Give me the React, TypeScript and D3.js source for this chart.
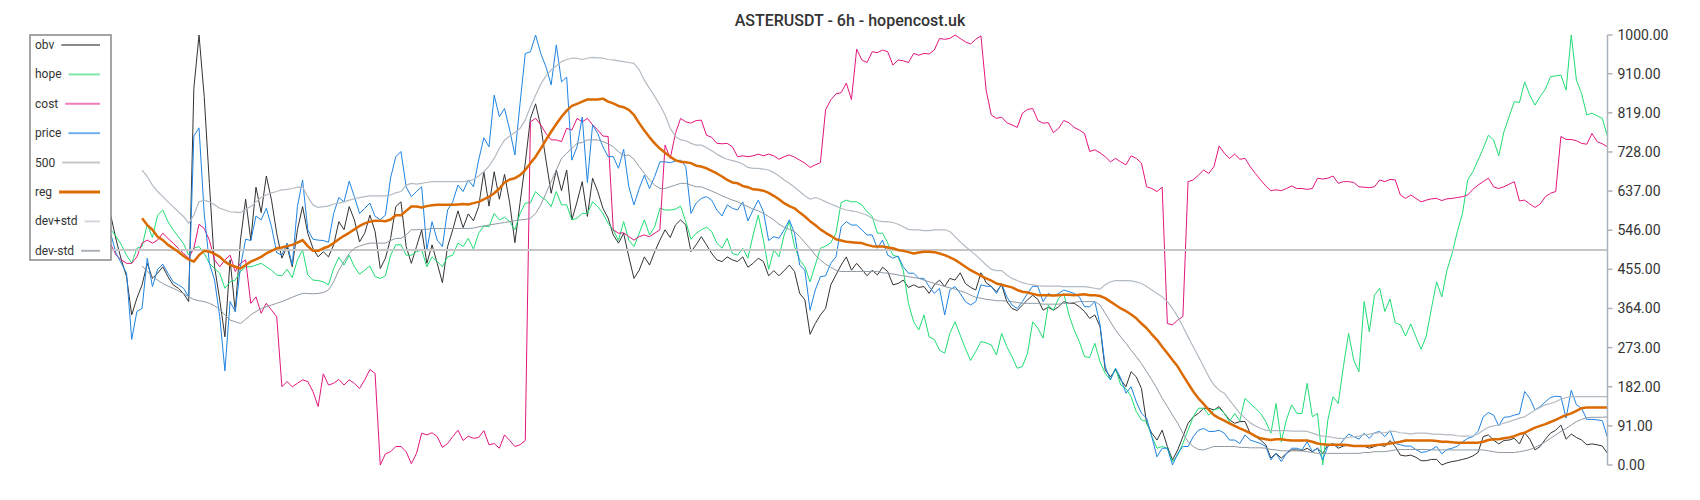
import React from 'react';
import * as d3 from 'd3';

const TITLE = 'ASTERUSDT - 6h - hopencost.uk';
const TICKS = [0, 91, 182, 273, 364, 455, 546, 637, 728, 819, 910, 1000];
const LEVEL = 500;

const price = [
  535, 492, 469, 446, 292, 357, 364, 481, 415, 455,
  467, 446, 426, 419, 411, 391, 765, 784, 585, 469,
  430, 345, 219, 380, 357, 461, 525, 522, 579, 570,
  597, 554, 494, 488, 516, 465, 601, 663, 547, 525,
  523, 522, 518, 585, 622, 612, 660, 624, 585, 597,
  609, 578, 571, 581, 668, 717, 729, 647, 624, 636,
  647, 500, 566, 523, 508, 593, 612, 651, 636, 663,
  647, 709, 761, 740, 860, 810, 829, 779, 721, 841,
  957, 961, 1000, 957, 926, 884, 977, 891, 902, 709,
  740, 809, 657, 791, 771, 740, 717, 717, 690, 734,
  647, 605, 643, 674, 643, 671, 705, 705, 703, 707,
  709, 694, 585, 609, 620, 624, 616, 593, 579, 605,
  597, 593, 612, 568, 593, 616, 589, 522, 531, 527,
  547, 570, 539, 465, 453, 360, 407, 438, 440, 469,
  484, 554, 566, 558, 558, 547, 535, 535, 504, 523,
  488, 481, 486, 461, 446, 446, 434, 434, 415, 399,
  411, 349, 407, 415, 399, 380, 372, 380, 419, 416,
  415, 399, 422, 391, 372, 364, 380, 399, 416, 415,
  380, 399, 393, 399, 407, 403, 399, 391, 368, 368,
  380, 326, 229, 198, 225, 202, 167, 182, 147, 120,
  109, 66, 19, 39, 39, 0, 27, 43, 43, 66,
  81, 85, 78, 78, 81, 74, 58, 58, 50, 70,
  58, 54, 50, 43, 12, 27, 8, 27, 39, 39,
  35, 54, 31, 39, 12, 43, 50, 43, 58, 72,
  66, 60, 74, 62, 75, 78, 66, 80, 50, 47,
  44, 44, 36, 29, 31, 36, 43, 26, 36, 39,
  44, 54, 62, 66, 78, 112, 122, 116, 91, 111,
  112, 116, 119, 171, 155, 128, 136, 147, 157, 160,
  159, 109, 174, 140, 132, 106, 106, 105, 103, 64,
];

const obv = [
  578, 523, 477, 438, 349, 388, 419, 469, 434, 446,
  461, 438, 419, 411, 399, 380, 876, 1000, 857, 655,
  461, 384, 298, 477, 357, 523, 618, 523, 646, 587,
  672, 616, 539, 481, 508, 461, 547, 601, 539, 504,
  484, 496, 484, 512, 566, 547, 601, 570, 519, 539,
  581, 543, 457, 481, 527, 601, 612, 508, 469, 508,
  547, 469, 512, 469, 424, 508, 547, 591, 552, 584,
  568, 601, 682, 602, 682, 618, 676, 609, 517, 610,
  702, 806, 840, 787, 709, 632, 686, 638, 686, 570,
  612, 659, 578, 667, 636, 597, 574, 535, 516, 539,
  484, 434, 453, 484, 465, 496, 523, 547, 529, 558,
  570, 558, 496, 512, 531, 512, 492, 477, 473, 484,
  477, 473, 484, 460, 469, 481, 473, 440, 452, 440,
  452, 465, 450, 399, 384, 304, 329, 349, 364, 419,
  442, 465, 484, 453, 469, 455, 440, 453, 442, 460,
  450, 419, 422, 430, 413, 419, 413, 415, 399, 419,
  430, 415, 434, 430, 447, 422, 413, 407, 447, 424,
  415, 403, 419, 380, 364, 359, 372, 384, 395, 385,
  360, 367, 360, 368, 380, 376, 376, 368, 357, 341,
  349, 322, 221, 205, 221, 198, 182, 217, 205, 178,
  97, 74, 58, 81, 43, 12, 35, 66, 97, 112,
  120, 132, 132, 128, 136, 120, 105, 97, 101, 101,
  74, 66, 58, 47, 16, 27, 16, 27, 35, 35,
  33, 39, 31, 39, 27, 47, 49, 39, 44, 47,
  44, 43, 44, 39, 43, 47, 43, 57, 43, 23,
  21, 23, 18, 10, 10, 13, 13, 0, 5, 8,
  10, 13, 16, 21, 29, 66, 70, 58, 49, 57,
  58, 62, 49, 75, 60, 35, 43, 60, 74, 81,
  93, 60, 72, 64, 58, 47, 49, 47, 44, 27,
];

const hope = [
  547, 531, 512, 488, 469, 504, 508, 560, 529, 581,
  593, 566, 547, 531, 515, 488, 504, 508, 492, 469,
  457, 446, 411, 426, 430, 450, 461, 461, 465, 469,
  461, 453, 442, 440, 455, 436, 477, 500, 442, 430,
  429, 426, 419, 457, 483, 465, 488, 461, 444, 453,
  463, 438, 434, 440, 488, 512, 512, 488, 488, 496,
  500, 461, 484, 473, 461, 484, 488, 516, 508, 527,
  502, 539, 556, 554, 585, 570, 576, 566, 547, 585,
  609, 610, 636, 624, 616, 601, 636, 605, 605, 570,
  574, 585, 585, 612, 601, 585, 562, 547, 522, 566,
  523, 508, 539, 570, 535, 554, 597, 593, 593, 595,
  602, 566, 525, 539, 547, 553, 543, 516, 504, 527,
  492, 488, 504, 481, 535, 581, 523, 455, 500, 484,
  535, 566, 508, 477, 461, 426, 465, 504, 509, 517,
  539, 610, 616, 612, 612, 605, 589, 578, 539, 539,
  516, 488, 484, 453, 376, 333, 314, 349, 298, 292,
  267, 260, 306, 333, 302, 271, 243, 264, 287, 284,
  279, 256, 306, 275, 252, 225, 229, 260, 333, 318,
  295, 372, 360, 388, 399, 349, 314, 287, 252, 250,
  283, 240, 213, 198, 225, 186, 178, 159, 124, 105,
  101, 66, 39, 43, 39, 8, 23, 50, 81, 112,
  132, 132, 116, 128, 132, 120, 101, 120, 103, 155,
  143, 132, 120, 101, 74, 143, 54, 105, 140, 120,
  120, 190, 112, 120, 0, 105, 159, 143, 229, 306,
  244, 217, 380, 310, 395, 411, 357, 386, 331, 326,
  300, 328, 298, 269, 300, 364, 426, 391, 453, 492,
  543, 585, 663, 682, 709, 736, 767, 756, 719, 775,
  810, 845, 843, 891, 860, 837, 857, 874, 903, 905,
  907, 872, 1000, 895, 864, 814, 818, 812, 806, 764,
];

const cost = [
  512, 488, 477, 469, 469, 484, 516, 523, 516, 523,
  539, 527, 516, 504, 492, 481, 504, 560, 550, 523,
  477, 461, 477, 488, 450, 469, 477, 376, 391, 353,
  376, 360, 345, 182, 194, 182, 190, 198, 194, 171,
  136, 212, 186, 190, 199, 186, 198, 190, 178, 198,
  222, 213, 0, 26, 31, 43, 43, 31, 3, 27,
  74, 70, 75, 66, 41, 50, 66, 81, 57, 67,
  62, 64, 80, 47, 50, 39, 70, 57, 43, 47,
  57, 798, 806, 791, 771, 756, 756, 752, 783, 779,
  806, 798, 806, 791, 779, 765, 764, 547, 539, 540,
  531, 523, 531, 535, 531, 539, 547, 744, 713, 771,
  806, 798, 795, 801, 802, 767, 762, 748, 747, 748,
  740, 717, 719, 717, 719, 723, 719, 723, 719, 711,
  717, 721, 716, 709, 702, 692, 698, 703, 826, 849,
  863, 866, 888, 850, 967, 942, 936, 961, 959, 965,
  961, 930, 942, 940, 936, 957, 953, 957, 956, 965,
  992, 990, 992, 1000, 992, 984, 979, 990, 998, 872,
  814, 806, 809, 796, 791, 785, 818, 827, 829, 801,
  795, 796, 773, 783, 801, 796, 785, 779, 771, 729,
  733, 726, 717, 705, 713, 705, 698, 719, 713, 702,
  647, 643, 636, 646, 329, 326, 337, 345, 659, 663,
  674, 686, 678, 694, 742, 725, 713, 723, 711, 713,
  694, 678, 663, 649, 638, 640, 638, 643, 649, 643,
  643, 641, 643, 667, 665, 667, 672, 655, 659, 659,
  657, 647, 646, 645, 647, 663, 659, 664, 663, 628,
  620, 628, 620, 612, 616, 619, 620, 615, 619, 620,
  622, 624, 628, 641, 651, 659, 667, 647, 643, 647,
  653, 659, 614, 616, 607, 599, 607, 624, 632, 636,
  764, 757, 757, 754, 748, 746, 771, 752, 747, 740,
];

const reg = [
  null, null, null, null, null, null, 574, 558, 547, 531,
  523, 512, 504, 496, 486, 478, 473, 488, 498, 496,
  491, 484, 473, 465, 461, 457, 465, 473, 478, 484,
  492, 498, 504, 506, 509, 512, 517, 523, 509, 498,
  498, 504, 508, 516, 525, 533, 540, 548, 556, 562,
  566, 568, 568, 567, 571, 581, 581, 591, 601, 601,
  599, 602, 604, 605, 605, 605, 605, 606, 607, 606,
  609, 612, 618, 624, 632, 643, 657, 664, 667, 674,
  686, 702, 717, 736, 756, 775, 793, 810, 824, 835,
  840, 845, 850, 850, 850, 852, 845, 841, 835, 832,
  826, 814, 795, 778, 762, 748, 736, 726, 717, 709,
  705, 704, 702, 696, 694, 690, 684, 678, 671, 663,
  657, 655, 649, 646, 641, 640, 638, 633, 626, 618,
  609, 602, 597, 587, 578, 567, 558, 548, 540, 533,
  525, 522, 519, 518, 517, 516, 512, 509, 508, 508,
  506, 504, 500, 498, 495, 492, 494, 496, 496, 495,
  492, 488, 483, 477, 469, 461, 453, 447, 440, 434,
  429, 422, 419, 416, 413, 407, 403, 401, 398, 395,
  395, 395, 394, 395, 396, 396, 395, 396, 397, 395,
  395, 393, 388, 380, 372, 364, 358, 350, 341, 329,
  318, 304, 291, 275, 260, 244, 229, 209, 190, 171,
  155, 142, 128, 116, 109, 103, 97, 91, 85, 80,
  74, 67, 62, 60, 58, 60, 60, 58, 57, 57,
  57, 57, 54, 50, 48, 47, 47, 47, 47, 46,
  44, 44, 44, 44, 46, 47, 48, 50, 52, 54,
  57, 57, 57, 57, 57, 57, 56, 54, 54, 53,
  52, 52, 52, 52, 52, 54, 58, 60, 60, 62,
  64, 67, 72, 75, 81, 87, 91, 95, 100, 105,
  111, 116, 120, 126, 132, 134, 134, 134, 134, 134,
];

const devPlus = [
  null, null, null, null, null, null, 686, 671, 651, 636,
  624, 612, 601, 589, 578, 562, 581, 612, 616, 612,
  605, 597, 593, 589, 588, 587, 595, 601, 612, 622,
  628, 633, 636, 640, 641, 643, 646, 647, 624, 605,
  599, 601, 602, 607, 609, 612, 616, 619, 622, 624,
  626, 626, 626, 626, 628, 633, 636, 651, 655, 653,
  655, 657, 659, 659, 659, 659, 659, 659, 659, 660,
  664, 672, 682, 695, 713, 736, 756, 765, 773, 783,
  802, 833, 860, 886, 905, 919, 928, 938, 943, 946,
  946, 943, 946, 948, 947, 946, 943, 942, 940, 938,
  936, 934, 919, 895, 876, 857, 837, 814, 783, 764,
  756, 754, 748, 744, 744, 738, 731, 723, 716, 711,
  708, 705, 700, 692, 690, 690, 688, 686, 680, 672,
  663, 655, 646, 636, 626, 618, 622, 618, 612, 607,
  602, 597, 593, 591, 589, 585, 581, 574, 568, 566,
  566, 564, 560, 554, 548, 547, 547, 545, 545, 547,
  547, 547, 543, 531, 519, 508, 498, 488, 477, 465,
  455, 452, 452, 442, 434, 429, 424, 421, 419, 417,
  416, 416, 416, 416, 415, 415, 415, 415, 415, 413,
  411, 409, 419, 426, 429, 429, 429, 428, 426, 422,
  415, 407, 399, 391, 380, 364, 345, 322, 298, 275,
  252, 229, 205, 186, 174, 167, 151, 136, 120, 109,
  98, 91, 85, 81, 80, 80, 80, 80, 79, 79,
  79, 78, 74, 70, 67, 66, 64, 62, 62, 64,
  66, 67, 70, 72, 74, 75, 75, 78, 78, 75,
  74, 72, 74, 74, 74, 72, 72, 71, 70, 70,
  68, 67, 67, 68, 72, 81, 88, 91, 93, 97,
  101, 105, 109, 112, 120, 128, 134, 140, 143, 147,
  153, 157, 159, 159, 159, 159, 159, 159, 159, 159,
];

const devMinus = [
  null, null, null, null, null, null, 463, 450, 438, 430,
  422, 416, 411, 405, 399, 391, 385, 382, 380, 376,
  370, 362, 349, 337, 333, 329, 339, 349, 357, 364,
  368, 372, 376, 380, 385, 390, 395, 399, 399, 398,
  399, 401, 407, 426, 453, 473, 492, 504, 509, 513,
  516, 516, 516, 516, 522, 527, 527, 535, 547, 547,
  548, 548, 550, 550, 550, 550, 550, 550, 550, 550,
  551, 554, 556, 558, 560, 562, 564, 566, 568, 570,
  571, 574, 585, 605, 632, 659, 686, 713, 725, 736,
  748, 750, 756, 756, 756, 752, 747, 740, 729, 719,
  721, 711, 694, 678, 663, 651, 643, 643, 647, 651,
  655, 655, 651, 647, 647, 642, 637, 632, 626, 621,
  616, 612, 606, 601, 595, 591, 585, 578, 570, 560,
  553, 548, 543, 531, 517, 504, 488, 477, 467, 460,
  453, 450, 450, 450, 450, 450, 450, 450, 450, 447,
  446, 444, 442, 440, 438, 436, 434, 430, 426, 422,
  419, 415, 412, 409, 405, 401, 395, 390, 388, 385,
  384, 382, 382, 381, 380, 378, 376, 376, 376, 376,
  374, 374, 374, 374, 376, 376, 378, 380, 380, 380,
  380, 372, 353, 333, 314, 298, 283, 267, 252, 236,
  217, 198, 178, 155, 136, 116, 97, 74, 54, 43,
  36, 35, 39, 43, 43, 43, 43, 43, 41, 41,
  40, 40, 40, 39, 36, 35, 33, 33, 33, 33,
  33, 31, 29, 27, 27, 27, 27, 27, 27, 27,
  27, 27, 29, 29, 31, 31, 31, 33, 35, 36,
  36, 36, 36, 36, 36, 35, 35, 35, 35, 35,
  35, 35, 35, 35, 35, 35, 33, 31, 29, 29,
  29, 29, 31, 33, 36, 41, 47, 54, 62, 70,
  78, 85, 93, 101, 106, 110, 111, 111, 111, 112,
];

const N = price.length;
const level = price.map(() => LEVEL);

const SERIES = [
  { name: 'obv', data: obv, color: '#333333', width: 1, legend: '#8a8a8a', lw: 2 },
  { name: 'hope', data: hope, color: '#1fdc74', width: 1, legend: '#7de8a9', lw: 2 },
  { name: 'cost', data: cost, color: '#e3157c', width: 1, legend: '#f07cba', lw: 2 },
  { name: 'price', data: price, color: '#1f84e2', width: 1, legend: '#6fb0ef', lw: 2 },
  { name: '500', data: level, color: '#c6c6c6', width: 2, legend: '#c8c8c8', lw: 2 },
  { name: 'reg', data: reg, color: '#db6a00', width: 2.5, legend: '#db6a00', lw: 3 },
  { name: 'dev+std', data: devPlus, color: '#b3bbc2', width: 1.2, legend: '#d2d6da', lw: 2 },
  { name: 'dev-std', data: devMinus, color: '#8e99a2', width: 1, legend: '#aab2b9', lw: 2 },
];

function textWidth(s: string, font: string) {
  if (typeof document === 'undefined') return s.length * 6.5;
  const c = document.createElement('canvas').getContext('2d');
  if (!c) return s.length * 6.5;
  c.font = font;
  return c.measureText(s).width;
}

export default function App() {
  const W = 1700, H = 500;
  const left = 111, right = 1607.5, top = 35, bottom = 465;
  const x = d3.scaleLinear().domain([0, N - 1]).range([left, right]);
  const y = d3.scaleLinear().domain([0, 1000]).range([bottom, top]);
  const line = d3.line<number | null>()
    .defined((d) => d != null)
    .x((_, i) => x(i))
    .y((d) => y(d as number));

  const font = 'Roboto, "Noto Sans", sans-serif';
  const legX = 30, legY = 35, legW = 81, legH = 225;
  const rowY0 = 45, rowStep = 29.4;

  return (
    <svg width={W} height={H} style={{ position: 'absolute', left: 0, top: 0, background: '#fff' }}
      fontFamily={font}>
      <rect x={0} y={0} width={W} height={H} fill="#fff" />
      <text x={W / 2} y={26} textAnchor="middle" fontSize={16} fontWeight={500} fill="#333">{TITLE}</text>

      {SERIES.map((s) => (
        <path key={s.name} d={line(s.data as (number | null)[]) || ''} fill="none"
          stroke={s.color} strokeWidth={s.width} strokeLinejoin="round" />
      ))}

      <line x1={right} x2={right} y1={top} y2={bottom} stroke="#aab3bb" strokeWidth={1.5} />
      {TICKS.map((t) => (
        <g key={t}>
          <line x1={right} x2={right + 5} y1={y(t)} y2={y(t)} stroke="#aab3bb" strokeWidth={1.5} />
          <text x={right + 10} y={y(t)} dominantBaseline="central" fontSize={14} fill="#333">{t.toFixed(2)}</text>
        </g>
      ))}

      <rect x={legX} y={legY} width={legW} height={legH} fill="#fff" stroke="#888" strokeWidth={1.5} />
      {SERIES.map((s, k) => {
        const ry = rowY0 + k * rowStep;
        const tw = textWidth(s.name, `12px ${font}`);
        return (
          <g key={s.name}>
            <text x={35} y={ry} dominantBaseline="central" fontSize={12} fill="#333">{s.name}</text>
            <line x1={35 + tw + 7} x2={100} y1={ry} y2={ry} stroke={s.legend} strokeWidth={s.lw} />
          </g>
        );
      })}
    </svg>
  );
}
